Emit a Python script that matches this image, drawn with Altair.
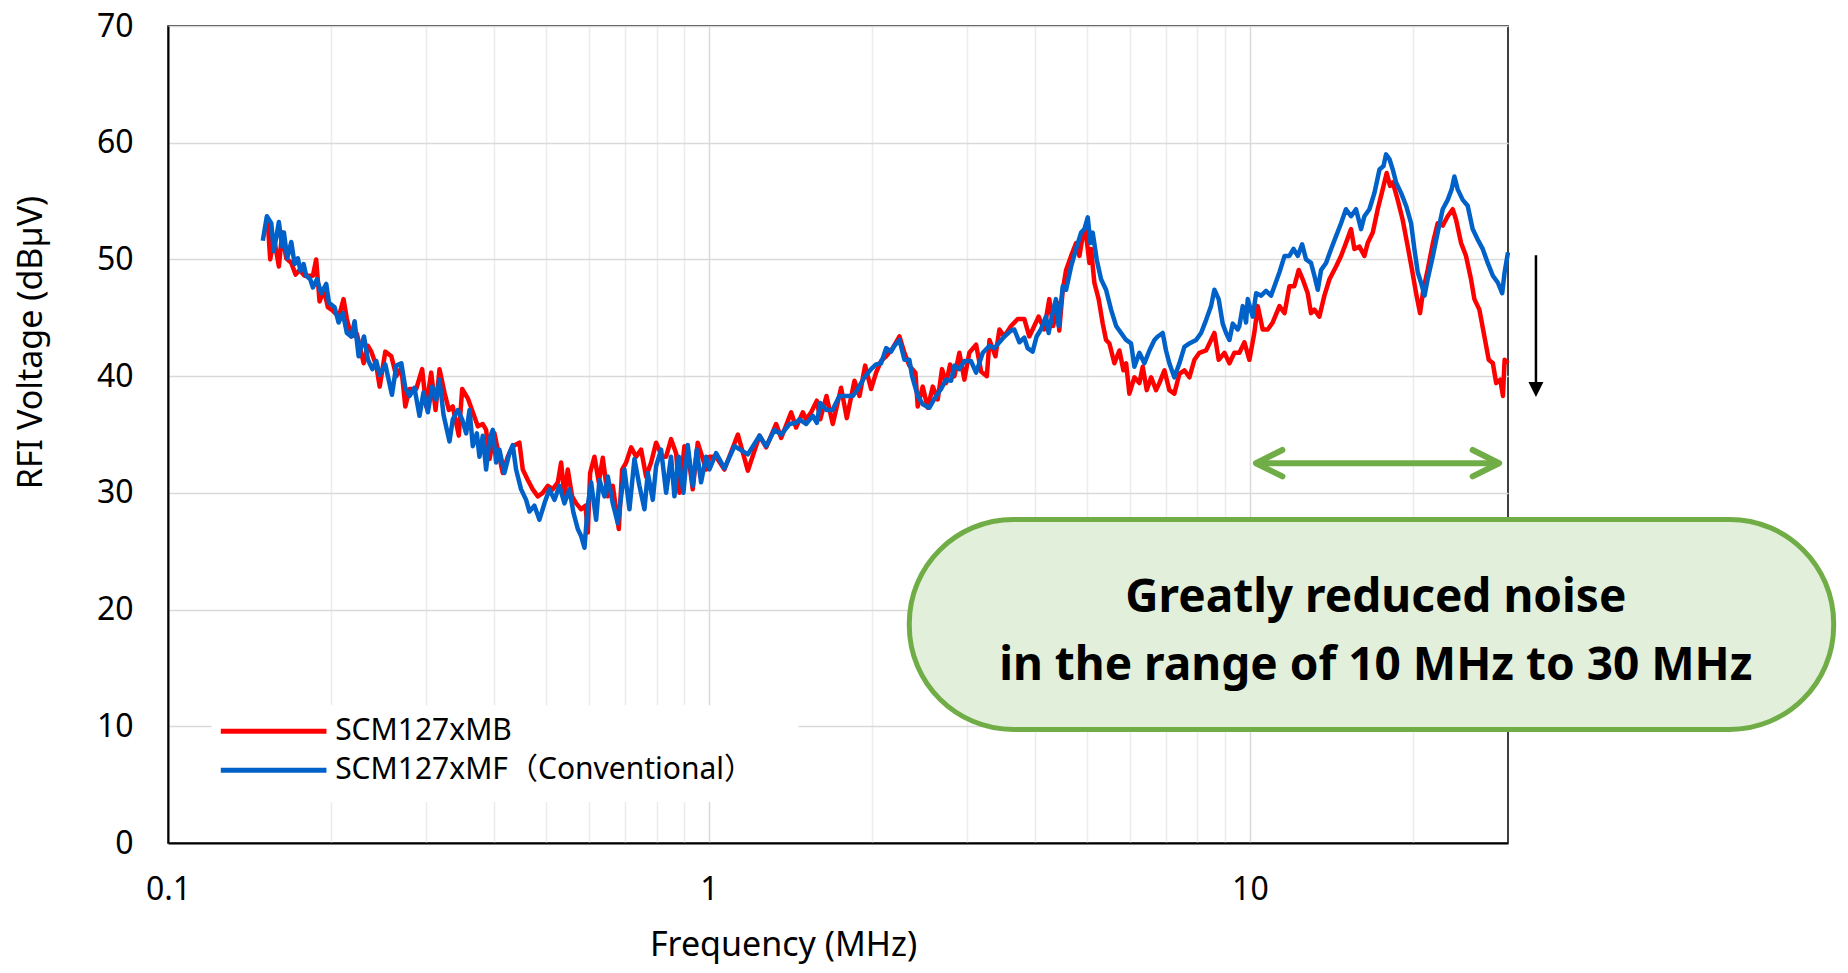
import altair as alt
import pandas as pd

# ---------------- data ----------------
# SCM127xMB (red): frequency (MHz) and RFI voltage (dBuV)
mb_freq = [0.1508, 0.1530, 0.1545, 0.1569, 0.1603, 0.1626, 0.1654, 0.1690, 0.1721, 0.1751,
           0.1788, 0.1822, 0.1853, 0.1879, 0.1906, 0.1942, 0.1975, 0.2017, 0.2070, 0.2111,
           0.2141, 0.2182, 0.2235, 0.2300, 0.2342, 0.2376, 0.2427, 0.2462, 0.2522, 0.2587,
           0.2643, 0.2700, 0.2746, 0.2795, 0.2876, 0.2950, 0.3001, 0.3066, 0.3123, 0.3176,
           0.3244, 0.3305, 0.3361, 0.3448, 0.3498, 0.3583, 0.3660, 0.3739,
           0.3819, 0.3873, 0.3929, 0.4013, 0.4071, 0.4158, 0.4247, 0.4338, 0.4463, 0.4527,
           0.4625, 0.4724, 0.4826, 0.4929, 0.5036, 0.5144, 0.5255, 0.5330, 0.5406, 0.5483,
           0.5585, 0.5682, 0.5804, 0.5912, 0.5971, 0.6030, 0.6143, 0.6257, 0.6364, 0.6501,
           0.6641, 0.6813, 0.6910, 0.7029, 0.7180, 0.7334, 0.7492, 0.7653, 0.7818, 0.7986,
           0.8192, 0.8333, 0.8511, 0.8695, 0.8819, 0.9009, 0.9176, 0.9334, 0.9534, 0.9670,
           0.9879,
           1.002, 1.031, 1.068, 1.131, 1.180, 1.240, 1.276, 1.331, 1.360, 1.419,
           1.449, 1.491, 1.512, 1.545, 1.583, 1.606, 1.649, 1.694, 1.755, 1.798,
           1.858, 1.898, 1.944, 1.994, 2.037, 2.081, 2.126, 2.186, 2.250, 2.298,
           2.347, 2.408, 2.432, 2.484, 2.538, 2.593, 2.648, 2.697, 2.744, 2.791,
           2.843, 2.904, 2.966, 3.029, 3.118, 3.185, 3.264, 3.301, 3.385, 3.443,
           3.516, 3.618, 3.722, 3.828, 3.910, 3.966, 4.068, 4.167, 4.257, 4.330,
           4.411, 4.442,
           4.509, 4.573, 4.672, 4.772, 4.840, 4.909, 4.965, 5.050, 5.087, 5.158,
           5.253, 5.345, 5.421, 5.499, 5.617, 5.738, 5.837, 5.904, 5.987, 6.116,
           6.248, 6.337, 6.447, 6.567, 6.708, 6.802, 6.950, 7.097, 7.250, 7.408,
           7.567, 7.729, 7.896, 8.067, 8.298, 8.476, 8.597, 8.756, 8.972, 9.166,
           9.359,
           9.563, 9.769, 9.979, 10.19, 10.34, 10.56, 10.79, 11.02, 11.34, 11.59,
           11.83, 12.08, 12.31, 12.52, 12.79, 12.97, 13.16, 13.44, 13.73, 14.03,
           14.43, 14.74, 15.05, 15.38, 15.60, 15.94, 16.28, 16.51, 16.87, 17.23,
           17.60, 17.90, 18.16, 18.37, 18.76, 19.16, 19.58, 19.94, 20.29, 20.63,
           20.92, 21.31, 21.79, 22.24, 22.72, 23.21, 23.71, 24.05, 24.57, 25.09,
           25.63, 26.00, 26.56, 27.13, 27.64, 28.13, 28.53, 29.03, 29.36, 29.57,
           30.0]
mb_db = [52.6, 53.0, 50.0, 51.9, 49.4, 52.3, 50.1, 49.7, 48.7, 49.1,
         48.6, 48.6, 48.6, 50.0, 46.4, 47.4, 45.9, 45.6, 45.1, 46.6,
         44.9, 43.4, 43.6, 41.1, 42.6, 42.1, 40.9, 39.1, 42.1, 41.7,
         40.0, 40.7, 37.4, 38.9, 38.9, 40.6, 37.4, 40.3, 37.1, 40.6,
         38.6, 37.1, 37.4, 34.9, 38.9, 38.1, 36.9, 35.7,
         35.9, 35.4, 32.9, 35.1, 33.7, 31.7, 33.1, 34.0, 34.3, 32.0,
         31.1, 30.3, 29.7, 30.0, 30.6, 30.3, 30.9, 32.6, 29.7, 32.0,
         29.7, 29.1, 28.6, 28.9, 26.6, 31.7, 33.1, 30.9, 33.0, 29.7,
         30.6, 26.9, 32.0, 32.6, 33.9, 33.1, 33.7, 31.4, 32.6, 34.3,
         33.1, 33.1, 34.6, 33.4, 30.0, 34.0, 32.9, 30.3, 34.3, 33.4,
         32.0,
         33.1, 33.1, 32.0, 35.0, 31.9, 34.9, 33.9, 35.9, 34.7, 36.9,
         35.6, 36.9, 36.3, 36.9, 37.9, 36.3, 38.3, 35.9, 39.0, 36.4,
         39.6, 38.3, 40.9, 38.9, 40.3, 41.3, 41.7, 42.4, 43.4, 42.0,
         40.9, 40.3, 37.4, 39.1, 37.3, 39.1, 38.0, 40.6, 39.4, 41.0,
         40.0, 42.0, 39.7, 42.0, 42.7, 40.4, 40.0, 43.1, 41.7, 44.0,
         43.4, 44.3, 44.9, 44.9, 43.4, 44.0, 45.1, 44.0, 46.6, 44.3,
         46.3, 43.9,
         47.4, 49.1, 50.3, 51.4, 50.3, 52.0, 52.6, 49.7, 50.9, 48.0,
         46.6, 44.5, 43.1, 42.8, 41.1, 42.2, 40.5, 41.1, 38.5, 39.9,
         39.4, 40.8, 38.8, 39.9, 38.8, 39.4, 40.5, 38.8, 38.5, 40.2,
         40.5, 39.9, 41.4, 42.0, 42.2, 43.1, 43.7, 41.4, 42.0, 41.1,
         42.0,
         42.0, 42.9, 41.4, 43.7, 46.0, 44.0, 44.0, 44.6, 46.0, 45.4,
         47.7, 47.7, 49.1, 48.3, 47.1, 45.4, 45.7, 45.1, 46.9, 48.3,
         49.4, 50.3, 51.4, 52.6, 50.9, 51.1, 50.3, 51.4, 52.3, 54.3,
         56.0, 57.4, 56.3, 56.6, 55.1, 53.4, 51.1, 49.1, 47.1, 45.4,
         47.4, 49.1, 51.4, 53.1, 52.9, 53.7, 54.3, 53.4, 51.4, 50.3,
         48.3, 46.6, 45.7, 43.4, 41.4, 41.1, 39.4, 39.7, 38.3, 41.4,
         41.1]

# SCM127xMF (Conventional, blue)
mf_freq = [0.1497, 0.1523, 0.1552, 0.1569, 0.1603, 0.1626, 0.1638, 0.1661, 0.1690, 0.1714,
           0.1738, 0.1758, 0.1781, 0.1801, 0.1832, 0.1853, 0.1885, 0.1920, 0.1961, 0.1984,
           0.2032, 0.2067, 0.2105, 0.2141, 0.2182, 0.2213, 0.2251, 0.2303, 0.2342, 0.2386,
           0.2427, 0.2462, 0.2522, 0.2558, 0.2594, 0.2643, 0.2700, 0.2746, 0.2795, 0.2855,
           0.2917, 0.2967, 0.3022, 0.3079, 0.3132, 0.3176, 0.3231, 0.3314, 0.3361, 0.3434,
           0.3498, 0.3558, 0.3609, 0.3660, 0.3723,
           0.3765, 0.3819, 0.3873, 0.3929, 0.3985, 0.4042, 0.4099, 0.4187, 0.4277, 0.4338,
           0.4400, 0.4495, 0.4592, 0.4657, 0.4757, 0.4860, 0.4965, 0.5071, 0.5181, 0.5292,
           0.5406, 0.5522, 0.5617, 0.5722, 0.5804, 0.5887, 0.5971, 0.6056, 0.6186, 0.6274,
           0.6409, 0.6501, 0.6641, 0.6784, 0.6881, 0.6979, 0.7129, 0.7282, 0.7439, 0.7599,
           0.7708, 0.7874, 0.7986, 0.8158, 0.8333, 0.8511, 0.8633, 0.8794, 0.8970, 0.9137,
           0.9334, 0.9494, 0.9670, 0.9879, 1.002,
           1.031, 1.068, 1.115, 1.180, 1.240, 1.276, 1.322, 1.360, 1.409, 1.449,
           1.470, 1.512, 1.556, 1.583, 1.606, 1.649, 1.692, 1.743, 1.793, 1.845,
           1.884, 1.938, 1.994, 2.037, 2.081, 2.126, 2.171, 2.202, 2.250, 2.298,
           2.347, 2.374, 2.432, 2.484, 2.556, 2.630, 2.686, 2.744, 2.803, 2.843,
           2.904, 2.966, 3.050, 3.118, 3.208, 3.301, 3.371, 3.443, 3.516, 3.618,
           3.669, 3.748, 3.828, 3.882, 3.966, 4.034, 4.108, 4.197, 4.245, 4.318,
           4.380, 4.430,
           4.509, 4.573, 4.672, 4.772, 4.874, 4.944, 5.015, 5.072, 5.122, 5.209,
           5.307, 5.421, 5.538, 5.658, 5.779, 5.904, 6.030, 6.116, 6.248, 6.383,
           6.520, 6.661, 6.756, 6.899, 6.997, 7.097, 7.250, 7.408, 7.567, 7.729,
           7.953, 8.124, 8.298, 8.476, 8.597, 8.756, 8.906, 9.036, 9.166, 9.296,
           9.495,
           9.563, 9.700, 9.838, 9.908, 10.12, 10.27, 10.49, 10.71, 10.94, 11.10,
           11.34, 11.59, 11.83, 12.04, 12.26, 12.49, 12.70, 12.97, 13.16, 13.35,
           13.54, 13.83, 14.13, 14.43, 14.74, 15.05, 15.38, 15.71, 16.05, 16.28,
           16.63, 16.99, 17.36, 17.66, 17.85, 18.11, 18.37, 18.63, 19.03, 19.44,
           19.86, 20.14, 20.43, 20.72, 21.03, 21.31, 21.79, 22.24, 22.72, 23.21,
           23.60, 23.88, 24.22, 24.74, 25.27, 25.81, 26.37, 26.94, 27.52, 28.13,
           28.74, 29.27, 29.57, 30.0]
mf_db = [51.6, 53.7, 53.1, 50.7, 53.2, 51.1, 52.3, 50.1, 51.5, 49.6,
         50.1, 49.0, 49.6, 48.6, 48.3, 47.6, 48.3, 47.1, 47.9, 46.3,
         45.9, 44.6, 45.4, 43.7, 43.4, 44.7, 41.7, 43.4, 41.4, 40.6,
         41.3, 40.1, 41.0, 39.7, 38.4, 40.9, 41.1, 39.0, 38.3, 39.0,
         36.6, 38.6, 36.9, 39.1, 38.0, 39.7, 36.7, 34.4, 36.3, 37.1,
         36.3, 35.1, 37.1, 34.0, 35.1,
         33.1, 34.9, 32.0, 34.6, 35.4, 32.6, 33.7, 31.7, 33.4, 34.1,
         32.0, 30.3, 29.4, 28.4, 28.9, 27.7, 29.1, 30.3, 29.4, 30.6,
         29.1, 30.3, 28.3, 26.9, 26.3, 25.3, 28.9, 30.9, 27.7, 31.1,
         29.7, 31.4, 29.1, 27.4, 29.7, 32.0, 28.6, 32.9, 30.6, 28.6,
         31.7, 29.4, 32.3, 33.7, 30.0, 33.1, 29.7, 33.1, 30.0, 34.1,
         30.6, 33.7, 30.9, 33.1, 32.0,
         33.4, 32.1, 34.0, 33.3, 34.9, 34.0, 35.4, 35.0, 35.9, 36.0,
         36.3, 35.9, 36.6, 36.0, 37.7, 37.1, 37.1, 38.3, 38.3, 38.3,
         38.9, 39.9, 40.6, 41.0, 41.1, 42.4, 42.1, 42.6, 43.1, 41.4,
         41.4, 40.0, 38.3, 37.6, 37.3, 38.3, 38.9, 39.7, 39.6, 40.9,
         40.6, 41.3, 41.3, 40.3, 42.0, 42.6, 42.4, 42.9, 43.4, 43.9,
         44.0, 42.9, 43.3, 42.4, 42.1, 43.4, 44.0, 45.1, 43.7, 45.4,
         46.6, 44.3,
         47.7, 47.4, 49.4, 50.9, 52.3, 52.6, 53.6, 51.4, 52.3, 50.0,
         48.3, 47.4, 45.7, 44.3, 43.7, 43.1, 42.8, 40.8, 42.0, 41.1,
         42.2, 43.1, 43.4, 43.7, 42.2, 41.1, 39.9, 41.1, 42.5, 42.8,
         43.1, 43.7, 44.8, 46.0, 47.4, 46.6, 44.5, 43.7, 43.1, 44.5,
         44.0,
         44.3, 46.0, 44.6, 46.6, 45.1, 47.1, 46.9, 47.3, 46.9, 47.7,
         48.9, 50.3, 50.3, 50.9, 50.3, 51.3, 50.0, 49.7, 48.6, 47.4,
         49.1, 49.7, 50.9, 52.0, 53.1, 54.3, 53.7, 54.3, 52.6, 53.7,
         54.3, 55.7, 57.7, 58.0, 59.0, 58.6, 57.7, 56.6, 55.7, 54.6,
         53.1, 50.9, 48.9, 48.0, 46.9, 48.3, 50.3, 52.3, 54.3, 55.1,
         56.0, 57.1, 56.0, 55.1, 54.6, 52.6, 51.7, 50.9, 49.7, 48.6,
         48.0, 47.1, 48.9, 50.6]

# axis / legend / annotation text
x_grid_values = [0.1, 0.2, 0.3, 0.4, 0.5, 0.6, 0.7, 0.8, 0.9,
                 1, 2, 3, 4, 5, 6, 7, 8, 9, 10, 20]
y_values = [0, 10, 20, 30, 40, 50, 60, 70]
legend_labels = ["SCM127xMB", "SCM127xMF（Conventional）"]
series_colors = ["#FF0000", "#0062C8"]
callout_lines = ["Greatly reduced noise", "in the range of 10 MHz to 30 MHz"]

# annotation anchor points, in data units (MHz, dBuV)
legend_line_f = [0.1252, 0.1963]
legend_line_v = [9.57, 6.23]
legend_label_f = 0.2037
legend_bg = dict(f=0.1203, f2=1.464, v=3.51, v2=11.8)
range_arrow = dict(f=10.26, f2=28.89, v=32.54)
down_arrow = dict(f=33.79, v_top=50.36, v_tip=38.22)
callout_box = dict(f=2.346, f2=120.0, v=9.73, v2=27.72)
callout_text_f = 17.09
callout_text_v = [19.79, 13.94]

# ---------------- chart ----------------
FONT = "Noto Sans, 'Noto Sans CJK JP', sans-serif"
GREEN = "#70AD47"

x_axis = alt.Axis(
    values=x_grid_values,
    format="~g",
    labelExpr="(datum.value == 0.1 || datum.value == 1 || datum.value == 10) ? datum.label : ''",
    grid=True,
    gridColor={"condition": {"test": "datum.value == 1 || datum.value == 10", "value": "#D9D9D9"},
               "value": "#ECECEC"},
    gridWidth=1.5,
    ticks=False, tickSize=0,
    domainColor="black", domainWidth=2,
    labelFont=FONT, labelFontSize=32, labelColor="black",
    labelPadding=31, labelFlush=False, labelOverlap=False,
    titleFont=FONT, titleFontSize=34, titleFontWeight="normal", titleColor="black",
    titleX=615, titleY=102, titleAlign="center", titleBaseline="middle",
)
y_axis = alt.Axis(
    values=y_values,
    grid=True, gridColor="#D9D9D9", gridWidth=1.5,
    ticks=False, tickSize=0,
    domainColor="black", domainWidth=2,
    labelFont=FONT, labelFontSize=32, labelColor="black", labelPadding=35,
    titleFont=FONT, titleFontSize=34, titleFontWeight="normal", titleColor="black",
    titleX=-137, titleY=316, titleAngle=270, titleAlign="center", titleBaseline="middle",
)
x_scale = alt.Scale(type="log", domain=[0.1, 30], nice=False)
y_scale = alt.Scale(domain=[0, 70], nice=False, zero=False)

X = alt.X("f:Q", scale=x_scale, axis=x_axis, title="Frequency (MHz)")
Y = alt.Y("v:Q", scale=y_scale, axis=y_axis, title="RFI Voltage (dBµV)")

mb_df = pd.DataFrame({"f": mb_freq, "v": mb_db})
mf_df = pd.DataFrame({"f": mf_freq, "v": mf_db})

line_mb = alt.Chart(mb_df).mark_line(color=series_colors[0], strokeWidth=4.5,
                                     strokeJoin="round").encode(x=X, y=Y)
line_mf = alt.Chart(mf_df).mark_line(color=series_colors[1], strokeWidth=4.5,
                                     strokeJoin="round").encode(x=X, y=Y)

# legend (drawn inside the plot, lower left)
leg_bg = alt.Chart(pd.DataFrame([legend_bg])).mark_rect(fill="white").encode(
    x=X, x2="f2:Q", y=Y, y2="v2:Q")
leg_lines_df = pd.DataFrame({
    "f": [legend_line_f[0]] * 2, "f2": [legend_line_f[1]] * 2,
    "v": legend_line_v, "s": legend_labels})
leg_lines = alt.Chart(leg_lines_df).mark_rule(strokeWidth=5).encode(
    x=X, x2="f2:Q", y=Y,
    color=alt.Color("s:N", scale=alt.Scale(domain=legend_labels, range=series_colors),
                    legend=None))
leg_text = alt.Chart(pd.DataFrame({"f": [legend_label_f] * 2, "v": legend_line_v,
                                   "s": legend_labels})).mark_text(
    align="left", baseline="middle", font=FONT, fontSize=30, color="black").encode(
    x=X, y=Y, text="s:N")

# green double arrow (10 MHz to 30 MHz)
arrow_shaft = alt.Chart(pd.DataFrame([range_arrow])).mark_rule(
    color=GREEN, strokeWidth=6).encode(x=X, x2="f2:Q", y=Y)
arrow_left = alt.Chart(pd.DataFrame({"f": [range_arrow["f"]], "v": [range_arrow["v"]]})).mark_point(
    shape="M 2 -1 L 0 0 L 2 1", size=700, filled=False, stroke=GREEN, strokeWidth=6,
    strokeCap="round", strokeJoin="round", opacity=1).encode(x=X, y=Y)
arrow_right = alt.Chart(pd.DataFrame({"f": [range_arrow["f2"]], "v": [range_arrow["v"]]})).mark_point(
    shape="M -2 -1 L 0 0 L -2 1", size=700, filled=False, stroke=GREEN, strokeWidth=6,
    strokeCap="round", strokeJoin="round", opacity=1).encode(x=X, y=Y)

# black downward arrow right of the plot
down_shaft = alt.Chart(pd.DataFrame({"f": [down_arrow["f"]], "v": [down_arrow["v_top"]],
                                     "v2": [down_arrow["v_tip"] + 1.0]})).mark_rule(
    color="black", strokeWidth=2.5).encode(x=X, y=Y, y2="v2:Q")
down_head = alt.Chart(pd.DataFrame({"f": [down_arrow["f"]],
                                    "v": [down_arrow["v_tip"] + 0.64]})).mark_point(
    shape="M -1 -1 L 1 -1 L 0 1 Z", size=225, filled=True, color="black",
    opacity=1, strokeWidth=0).encode(x=X, y=Y)

# callout box
box = alt.Chart(pd.DataFrame([callout_box])).mark_rect(
    cornerRadius=104, fill="#E2EFDA", stroke=GREEN, strokeWidth=5).encode(
    x=X, x2="f2:Q", y=Y, y2="v2:Q")
box_text = alt.Chart(pd.DataFrame({"f": [callout_text_f] * 2, "v": callout_text_v,
                                   "t": callout_lines})).mark_text(
    align="center", baseline="alphabetic", font=FONT, fontSize=46, fontWeight="bold",
    color="black").encode(x=X, y=Y, text="t:N")

chart = alt.layer(
    leg_bg, leg_lines, leg_text, line_mb, line_mf,
    arrow_shaft, arrow_left, arrow_right, down_shaft, down_head, box, box_text,
).properties(
    width=1340, height=817,
    autosize=alt.AutoSizeParams(type="none"),
    padding={"left": 160, "top": 18, "right": 332, "bottom": 122},
    background="white",
).configure_view(stroke="black", strokeWidth=1.5)

chart.save("out.html", embed_options={"renderer": "svg", "actions": False})
